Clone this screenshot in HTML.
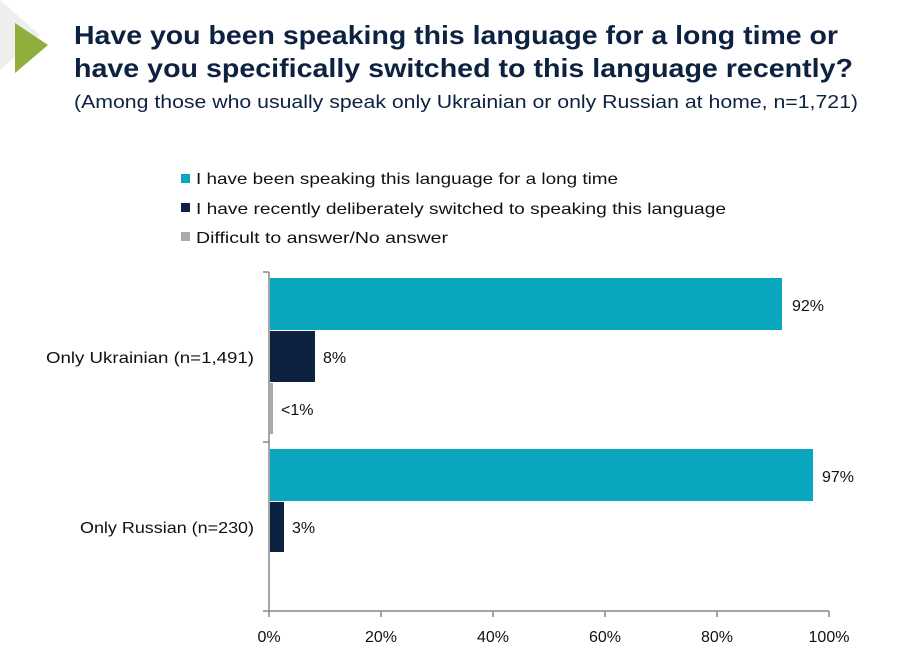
<!DOCTYPE html>
<html><head><meta charset="utf-8"><style>
body{margin:0;width:921px;height:660px;background:#fff;overflow:hidden;font-family:"Liberation Sans",sans-serif;}
</style></head><body>
<svg width="921" height="660" xmlns="http://www.w3.org/2000/svg" font-family="Liberation Sans, sans-serif">
<polygon points="0,0 40,35 0,70" fill="#eeeeee"/>
<polygon points="15,23 48,45 15,73" fill="#8fae3c"/>
<text x="74" y="44" font-size="26" font-weight="bold" fill="#0d2240" textLength="764" lengthAdjust="spacingAndGlyphs">Have you been speaking this language for a long time or</text>
<text x="74" y="77" font-size="26" font-weight="bold" fill="#0d2240" textLength="779" lengthAdjust="spacingAndGlyphs">have you specifically switched to this language recently?</text>
<text x="74" y="108" font-size="18" fill="#0d2240" textLength="784" lengthAdjust="spacingAndGlyphs">(Among those who usually speak only Ukrainian or only Russian at home, n=1,721)</text>
<rect x="181" y="174" width="9" height="9" fill="#0aa6bf"/>
<text x="196" y="184" font-size="16" fill="#111" textLength="422" lengthAdjust="spacingAndGlyphs">I have been speaking this language for a long time</text>
<rect x="181" y="203" width="9" height="9" fill="#0d2240"/>
<text x="196" y="214" font-size="16" fill="#111" textLength="530" lengthAdjust="spacingAndGlyphs">I have recently deliberately switched to speaking this language</text>
<rect x="181" y="232" width="9" height="9" fill="#aaaaaa"/>
<text x="196" y="243" font-size="16" fill="#111" textLength="252" lengthAdjust="spacingAndGlyphs">Difficult to answer/No answer</text>
<g stroke="#888" stroke-width="1.5" fill="none">
<line x1="269" y1="272" x2="269" y2="611"/>
<line x1="263" y1="272" x2="269" y2="272"/>
<line x1="263" y1="442" x2="269" y2="442"/>
<line x1="263" y1="611" x2="829" y2="611"/>
<line x1="381" y1="611" x2="381" y2="617"/><line x1="493" y1="611" x2="493" y2="617"/>
<line x1="605" y1="611" x2="605" y2="617"/><line x1="717" y1="611" x2="717" y2="617"/>
<line x1="829" y1="611" x2="829" y2="617"/><line x1="269" y1="611" x2="269" y2="617"/>
</g>
<rect x="270" y="278" width="512" height="52" fill="#0aa6bf"/>
<rect x="270" y="331" width="45" height="51" fill="#0d2240"/>
<rect x="270" y="383" width="3" height="51" fill="#aaaaaa"/>
<rect x="270" y="449" width="543" height="52" fill="#0aa6bf"/>
<rect x="270" y="502" width="14" height="50" fill="#0d2240"/>
<g font-size="16" fill="#111">
<text x="792" y="311">92%</text>
<text x="323" y="363">8%</text>
<text x="281" y="415">&lt;1%</text>
<text x="822" y="482">97%</text>
<text x="292" y="533">3%</text>
<text x="46" y="363" textLength="208" lengthAdjust="spacingAndGlyphs">Only Ukrainian (n=1,491)</text>
<text x="80" y="533" textLength="174" lengthAdjust="spacingAndGlyphs">Only Russian (n=230)</text>
</g>
<g font-size="16" fill="#111" text-anchor="middle">
<text x="269" y="642">0%</text><text x="381" y="642">20%</text><text x="493" y="642">40%</text>
<text x="605" y="642">60%</text><text x="717" y="642">80%</text><text x="829" y="642">100%</text>
</g>
</svg>
</body></html>
